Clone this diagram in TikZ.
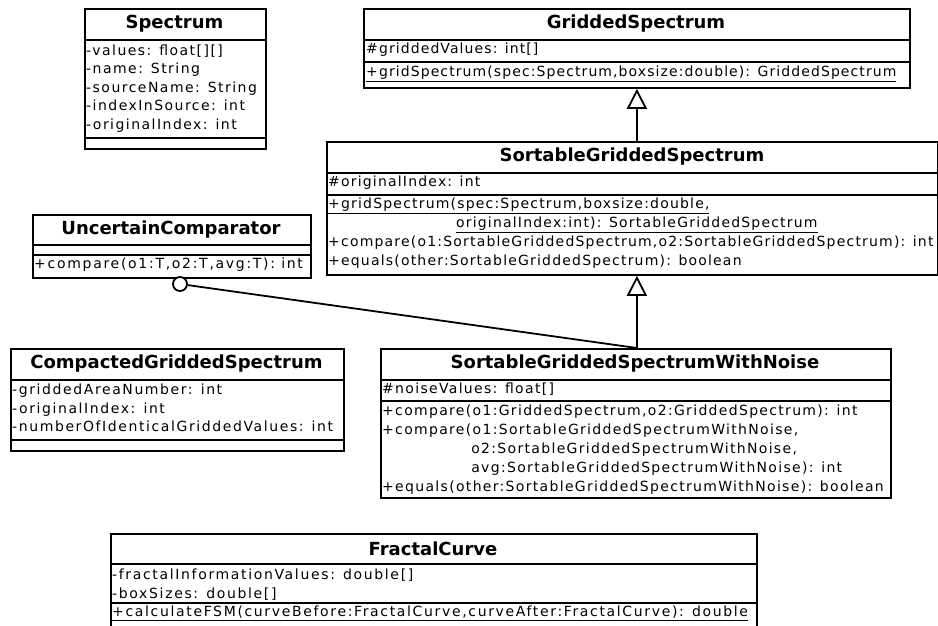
\documentclass[tikz,border=0pt]{standalone}
\usepackage{fontspec}
\setmainfont{DejaVu Sans}
\newfontfamily\titlefont{DejaVu Sans Bold}
\newfontfamily\memSpec{DejaVu Sans}[LetterSpace=10.5]
\newfontfamily\memGS{DejaVu Sans}[LetterSpace=7.8]
\newfontfamily\memSGS{DejaVu Sans}[LetterSpace=8.5]
\newfontfamily\memUC{DejaVu Sans}[LetterSpace=12.2]
\newfontfamily\memCGS{DejaVu Sans}[LetterSpace=11.4]
\newfontfamily\memW{DejaVu Sans}[LetterSpace=9.4]
\newfontfamily\memFC{DejaVu Sans}[LetterSpace=11.8]
\usetikzlibrary{arrows.meta}
\begin{document}
\begin{tikzpicture}[x=1pt,y=-1pt,
  classbox/.style={draw, line width=1.8pt, inner sep=0pt, anchor=north west},
  sepline/.style={line width=1.8pt},
  title/.style={font=\titlefont\fontsize{18}{20}\selectfont, inner sep=0pt},
  mem/.style={inner sep=0pt, anchor=mid west},
  mSpec/.style={mem, font=\memSpec\fontsize{14}{16}\selectfont},
  mGS/.style={mem, font=\memGS\fontsize{14}{16}\selectfont},
  mSGS/.style={mem, font=\memSGS\fontsize{14}{16}\selectfont},
  mUC/.style={mem, font=\memUC\fontsize{14}{16}\selectfont},
  mCGS/.style={mem, font=\memCGS\fontsize{14}{16}\selectfont},
  mW/.style={mem, font=\memW\fontsize{14}{16}\selectfont},
  mFC/.style={mem, font=\memFC\fontsize{14}{16}\selectfont},
  gen/.style={line width=1.8pt, -{Triangle[open, length=20pt, width=20pt, line width=1.8pt]}},
  lolly/.style={draw, circle, line width=1.8pt, fill=white, minimum size=14pt, inner sep=0pt}]
\useasboundingbox (0,0) rectangle (938,625);

% Spectrum
\node[classbox, minimum width=181pt, minimum height=140pt] (spec) at (84,8) {};
\draw[sepline] (84,40) -- (265,40);
\draw[sepline] (84,138) -- (265,138);
\node[title] (spect) at (174.5,24) {Spectrum};
\node[mSpec] (spec1) at (86,53) {-values: float[][]};
\node[mSpec] (spec2) at (86,71) {-name: String};
\node[mSpec] (spec3) at (86,90) {-sourceName: String};
\node[mSpec] (spec4) at (86,108) {-indexInSource: int};
\node[mSpec] (spec5) at (86,127) {-originalIndex: int};

% GriddedSpectrum
\node[classbox, minimum width=546pt, minimum height=79pt] (gs) at (363,8) {};
\draw[sepline] (363,40) -- (909,40);
\draw[sepline] (363,62) -- (909,62);
\node[title] (gst) at (636,24) {GriddedSpectrum};
\node[mGS] (gs1) at (366,51) {\#griddedValues: int[]};
\node[mGS] (gs2) at (366,74) {\underline{+gridSpectrum(spec:Spectrum,boxsize:double): GriddedSpectrum}};

% SortableGriddedSpectrum
\node[classbox, minimum width=611pt, minimum height=133pt] (sgs) at (326,141) {};
\draw[sepline] (326,173) -- (937,173);
\draw[sepline] (326,195) -- (937,195);
\node[title] (sgst) at (632,157) {SortableGriddedSpectrum};
\node[mSGS] (sgs1) at (328,184) {\#originalIndex: int};
\node[mSGS] (sgs2) at (328,206) {\underline{+gridSpectrum(spec:Spectrum,boxsize:double,}};
\node[mSGS] (sgs3) at (328,225) {\hphantom{+gridSpectrum(}\underline{originalIndex:int): SortableGriddedSpectrum}};
\node[mSGS] (sgs4) at (328,244) {+compare(o1:SortableGriddedSpectrum,o2:SortableGriddedSpectrum): int};
\node[mSGS] (sgs5) at (328,263) {+equals(other:SortableGriddedSpectrum): boolean};

% UncertainComparator
\node[classbox, minimum width=278pt, minimum height=63pt] (uc) at (32,214) {};
\draw[sepline] (32,245) -- (310,245);
\draw[sepline] (32,255) -- (310,255);
\node[title] (uct) at (171,230) {UncertainComparator};
\node[mUC] (uc1) at (34,266) {+compare(o1:T,o2:T,avg:T): int};

% CompactedGriddedSpectrum
\node[classbox, minimum width=333pt, minimum height=102pt] (cgs) at (10,348) {};
\draw[sepline] (10,380) -- (343,380);
\draw[sepline] (10,440) -- (343,440);
\node[title] (cgst) at (176.5,364) {CompactedGriddedSpectrum};
\node[mCGS] (cgs1) at (12,392) {-griddedAreaNumber: int};
\node[mCGS] (cgs2) at (12,411) {-originalIndex: int};
\node[mCGS] (cgs3) at (12,429) {-numberOfIdenticalGriddedValues: int};

% SortableGriddedSpectrumWithNoise
\node[classbox, minimum width=510pt, minimum height=149pt] (sgswn) at (380,348) {};
\draw[sepline] (380,380) -- (890,380);
\draw[sepline] (380,401) -- (890,401);
\node[title] (sgswnt) at (635,364) {SortableGriddedSpectrumWithNoise};
\node[mW] (w1) at (382,391) {\#noiseValues: float[]};
\node[mW] (w2) at (382,413) {+compare(o1:GriddedSpectrum,o2:GriddedSpectrum): int};
\node[mW] (w3) at (382,432) {+compare(o1:SortableGriddedSpectrumWithNoise,};
\node[mW] (w4) at (382,451) {\hphantom{+compare(}o2:SortableGriddedSpectrumWithNoise,};
\node[mW] (w5) at (382,470) {\hphantom{+compare(}avg:SortableGriddedSpectrumWithNoise): int};
\node[mW] (w6) at (382,489) {+equals(other:SortableGriddedSpectrumWithNoise): boolean};

% FractalCurve
\node[classbox, minimum width=646pt, minimum height=94pt] (fc) at (110,533) {};
\draw[sepline] (110,564) -- (756,564);
\draw[sepline] (110,603) -- (756,603);
\node[title] (fct) at (433,549) {FractalCurve};
\node[mFC] (fc1) at (112,577) {-fractalInformationValues: double[]};
\node[mFC] (fc2) at (112,596) {-boxSizes: double[]};
\node[mFC] (fc3) at (112,614) {\underline{+calculateFSM(curveBefore:FractalCurve,curveAfter:FractalCurve): double}};

% connectors
\draw[gen] (sgs.north -| gs.south) -- (gs.south);
\draw[gen] (sgswn.north -| gs.south) -- (sgs.south -| gs.south);
\node[lolly] (lol) at (180,284) {};
\draw[line width=1.8pt] (lol) -- (sgswn.north -| gs.south);
\end{tikzpicture}
\end{document}
